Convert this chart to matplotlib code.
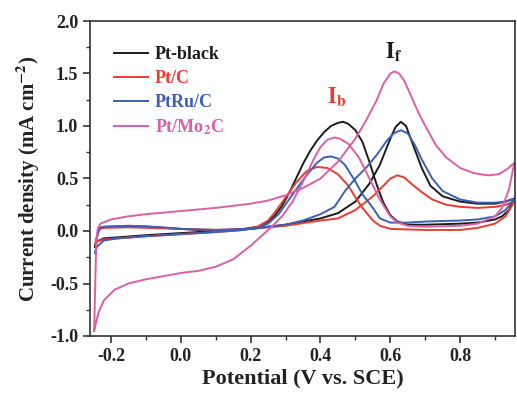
import matplotlib
matplotlib.use("Agg")
import matplotlib.pyplot as plt
from matplotlib.ticker import MultipleLocator

plt.rcParams['font.family'] = ['Liberation Serif', 'DejaVu Serif']
plt.rcParams['font.weight'] = 'bold'
plt.rcParams['mathtext.fontset'] = 'stix'

# ---------------- data (potential V vs SCE, current density mA cm^-2) ----------------
labels = ['Pt-black', 'Pt/C', 'PtRu/C', r'Pt/Mo$\mathbf{_2}$C']
colors = ['#1c1c1c', '#ee3b2f', '#3d5fb5', '#dc5fa5']

ptblack_fwd_v = [-0.245, -0.238, -0.232, -0.22, -0.15, -0.1, -0.05, 0.0, 0.05, 0.1, 0.15, 0.2, 0.25, 0.3, 0.35,
                 0.4, 0.45, 0.5, 0.54, 0.57, 0.6, 0.615, 0.63, 0.645, 0.665, 0.69, 0.715, 0.75, 0.8, 0.85, 0.9,
                 0.93, 0.955]
ptblack_fwd_j = [-0.15, -0.02, 0.03, 0.04, 0.045, 0.04, 0.03, 0.02, 0.01, 0.01, 0.01, 0.02, 0.04, 0.06, 0.09,
                 0.12, 0.17, 0.28, 0.45, 0.63, 0.88, 0.99, 1.04, 1.0, 0.82, 0.6, 0.43, 0.33, 0.28, 0.26, 0.26,
                 0.28, 0.31]
ptblack_bwd_v = [0.955, 0.94, 0.92, 0.9, 0.85, 0.8, 0.7, 0.65, 0.62, 0.6, 0.58, 0.56, 0.54, 0.52, 0.5, 0.48,
                 0.465, 0.45, 0.43, 0.41, 0.39, 0.37, 0.35, 0.33, 0.31, 0.29, 0.27, 0.25, 0.22, 0.18, 0.1, 0.0,
                 -0.1, -0.18, -0.22, -0.24, -0.245]
ptblack_bwd_j = [0.31, 0.2, 0.14, 0.11, 0.08, 0.07, 0.06, 0.06, 0.09, 0.15, 0.27, 0.45, 0.66, 0.85, 0.96, 1.02,
                 1.04, 1.03, 1.0, 0.94, 0.86, 0.76, 0.64, 0.5, 0.36, 0.24, 0.15, 0.09, 0.04, 0.02, 0.0, -0.02,
                 -0.04, -0.06, -0.07, -0.1, -0.15]

ptc_fwd_v = [-0.245, -0.238, -0.232, -0.22, -0.15, -0.1, 0.0, 0.1, 0.2, 0.3, 0.4, 0.45, 0.5, 0.55, 0.58, 0.6,
             0.62, 0.64, 0.66, 0.69, 0.72, 0.76, 0.8, 0.85, 0.9, 0.93, 0.955]
ptc_fwd_j = [-0.12, -0.03, 0.02, 0.03, 0.035, 0.03, 0.02, 0.01, 0.02, 0.05, 0.1, 0.12, 0.2, 0.33, 0.43, 0.5,
             0.53, 0.51, 0.45, 0.37, 0.3, 0.25, 0.23, 0.22, 0.23, 0.25, 0.28]
ptc_bwd_v = [0.955, 0.93, 0.9, 0.85, 0.8, 0.7, 0.6, 0.57, 0.55, 0.52, 0.5, 0.48, 0.45, 0.42, 0.39, 0.36, 0.33,
             0.3, 0.27, 0.25, 0.22, 0.18, 0.1, 0.0, -0.1, -0.18, -0.22, -0.24, -0.245]
ptc_bwd_j = [0.28, 0.14, 0.07, 0.03, 0.01, 0.01, 0.02, 0.05, 0.1, 0.22, 0.32, 0.43, 0.54, 0.6, 0.61, 0.57, 0.46,
             0.32, 0.18, 0.1, 0.04, 0.01, -0.01, -0.03, -0.05, -0.07, -0.08, -0.1, -0.12]

ptru_fwd_v = [-0.245, -0.24, -0.233, -0.22, -0.15, -0.1, -0.05, 0.0, 0.1, 0.2, 0.3, 0.35, 0.4, 0.44, 0.47, 0.5,
              0.53, 0.56, 0.59, 0.61, 0.63, 0.65, 0.67, 0.69, 0.72, 0.75, 0.8, 0.85, 0.9, 0.93, 0.955]
ptru_fwd_j = [-0.21, -0.05, 0.02, 0.04, 0.05, 0.045, 0.035, 0.02, 0.01, 0.02, 0.06, 0.1, 0.16, 0.23, 0.38, 0.5,
              0.6, 0.72, 0.86, 0.93, 0.96, 0.93, 0.82, 0.68, 0.5, 0.38, 0.3, 0.27, 0.27, 0.28, 0.31]
ptru_bwd_v = [0.955, 0.93, 0.9, 0.85, 0.8, 0.7, 0.65, 0.6, 0.57, 0.55, 0.52, 0.5, 0.47, 0.45, 0.43, 0.41, 0.39,
              0.36, 0.34, 0.31, 0.28, 0.25, 0.22, 0.18, 0.1, 0.0, -0.1, -0.18, -0.22, -0.24, -0.245]
ptru_bwd_j = [0.31, 0.2, 0.14, 0.11, 0.1, 0.09, 0.08, 0.08, 0.12, 0.22, 0.35, 0.47, 0.63, 0.69, 0.71, 0.7, 0.65,
              0.53, 0.44, 0.3, 0.16, 0.07, 0.03, 0.01, -0.01, -0.03, -0.05, -0.07, -0.09, -0.15, -0.21]

ptmo_fwd_v = [-0.248, -0.245, -0.242, -0.238, -0.23, -0.2, -0.15, -0.1, 0.0, 0.1, 0.2, 0.25, 0.3, 0.35, 0.4,
              0.45, 0.5, 0.53, 0.56, 0.58, 0.6, 0.612, 0.625, 0.64, 0.66, 0.68, 0.7, 0.73, 0.76, 0.8, 0.84,
              0.88, 0.91, 0.935, 0.955]
ptmo_fwd_j = [-0.95, -0.5, -0.1, 0.02, 0.07, 0.11, 0.14, 0.16, 0.19, 0.22, 0.26, 0.29, 0.34, 0.41, 0.5,
              0.66, 0.88, 1.05, 1.24, 1.4, 1.5, 1.52, 1.5, 1.43, 1.28, 1.13, 1.0, 0.82, 0.7, 0.6, 0.55,
              0.53, 0.54, 0.59, 0.65]
ptmo_bwd_v = [0.955, 0.94, 0.92, 0.9, 0.85, 0.8, 0.7, 0.65, 0.62, 0.6, 0.57, 0.54, 0.51, 0.48, 0.455, 0.44,
              0.42, 0.4, 0.38, 0.35, 0.32, 0.29, 0.26, 0.23, 0.2, 0.15, 0.1, 0.05, 0.0, -0.05, -0.1, -0.15,
              -0.19, -0.22, -0.235, -0.245, -0.248]
ptmo_bwd_j = [0.65, 0.4, 0.22, 0.14, 0.07, 0.05, 0.04, 0.05, 0.08, 0.14, 0.3, 0.5, 0.7, 0.83, 0.88, 0.89,
              0.87, 0.8, 0.68, 0.47, 0.28, 0.14, 0.04, -0.05, -0.14, -0.27, -0.34, -0.38, -0.4, -0.43, -0.46,
              -0.5, -0.56, -0.66, -0.77, -0.9, -0.95]

series = [
    (ptblack_fwd_v + ptblack_bwd_v, ptblack_fwd_j + ptblack_bwd_j),
    (ptc_fwd_v + ptc_bwd_v, ptc_fwd_j + ptc_bwd_j),
    (ptru_fwd_v + ptru_bwd_v, ptru_fwd_j + ptru_bwd_j),
    (ptmo_fwd_v + ptmo_bwd_v, ptmo_fwd_j + ptmo_bwd_j),
]

# ---------------- figure ----------------
fig = plt.figure(figsize=(5.17, 3.99), dpi=100)
ax = fig.add_axes([90 / 517, 1 - 336 / 399, 425 / 517, 315 / 399])

for (v, j), c, lab in zip(series, colors, labels):
    ax.plot(v, j, color=c, lw=1.4, label=lab, solid_joinstyle='round')

ax.set_xlim(-0.26, 0.957)
ax.set_ylim(-1.0, 2.0)
ax.xaxis.set_major_locator(MultipleLocator(0.2))
ax.xaxis.set_minor_locator(MultipleLocator(0.1))
ax.yaxis.set_major_locator(MultipleLocator(0.5))
ax.yaxis.set_minor_locator(MultipleLocator(0.25))
ax.set_xticks([-0.2, 0.0, 0.2, 0.4, 0.6, 0.8])
ax.set_xticklabels(['-0.2', '0.0', '0.2', '0.4', '0.6', '0.8'])
ax.set_yticks([-1.0, -0.5, 0.0, 0.5, 1.0, 1.5, 2.0])
ax.set_yticklabels(['-1.0', '-0.5', '0.0', '0.5', '1.0', '1.5', '2.0'])

for s in ax.spines.values():
    s.set_linewidth(1.2)
    s.set_color('#333333')
ax.tick_params(which='major', direction='out', length=5, width=1.2, labelsize=13, colors='#333333',
               labelcolor='#222222')
ax.tick_params(which='minor', direction='out', length=3, width=1.0, colors='#333333')
ax.tick_params(top=False, right=False)
for lbl in ax.get_xticklabels() + ax.get_yticklabels():
    lbl.set_fontweight('bold')

ax.set_xlabel('Potential (V vs. SCE)', fontsize=16, fontweight='bold', labelpad=3, color='#222222')
ax.set_ylabel(r'Current density (mA cm$\mathbf{^{-2}}$)', fontsize=15, fontweight='bold', labelpad=6,
              color='#222222')

leg = ax.legend(loc='upper left', bbox_to_anchor=(0.057, 0.92), frameon=False, fontsize=13,
                handlelength=1.85, handletextpad=0.4, labelspacing=0.38, borderpad=0, borderaxespad=0)
for t, c in zip(leg.get_texts(), colors):
    t.set_color(c)
    t.set_fontweight('bold')

ax.text(0.609, 1.70, r'$\mathbf{I_f}$', color='#1c1c1c', fontsize=16, ha='center', va='center')
ax.text(0.446, 1.27, r'$\mathbf{I_b}$', color='#ee3b2f', fontsize=16, ha='center', va='center')

fig.savefig('out.png', dpi=100)
